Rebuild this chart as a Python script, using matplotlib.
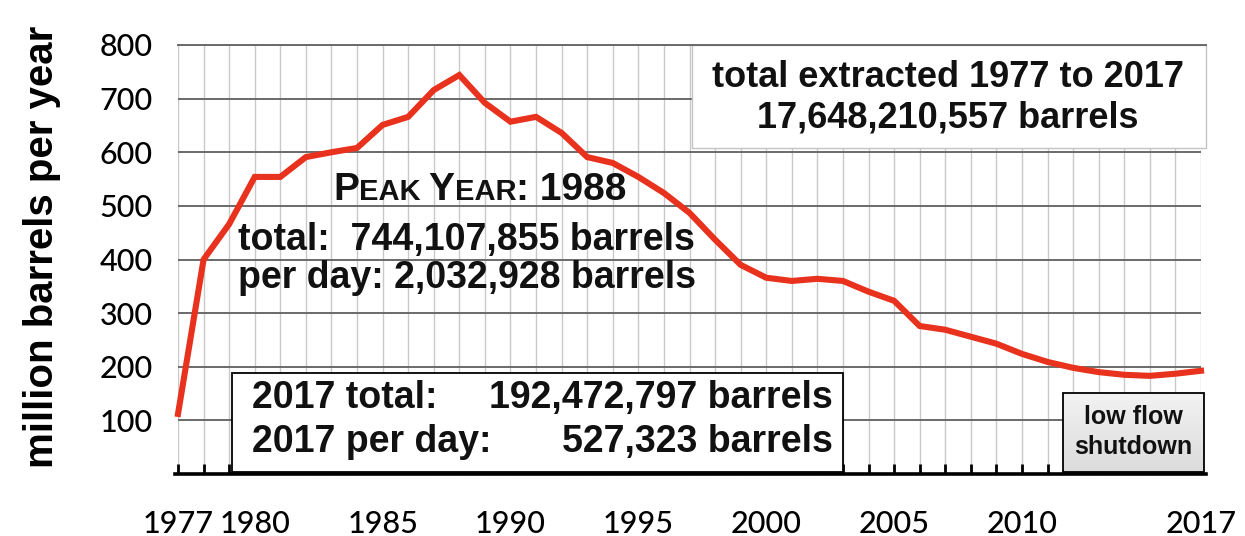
import numpy as np
import matplotlib
matplotlib.use("Agg")
import matplotlib.pyplot as plt
from matplotlib.patches import Rectangle
from matplotlib.offsetbox import TextArea, HPacker, AnnotationBbox

years = list(range(1977, 2018))
production = [112, 400, 466, 554, 554, 591, 600, 608, 651, 666, 716, 744,
              692, 657, 666, 636, 591, 580, 554, 524, 487, 437, 390, 366,
              360, 364, 360, 340, 323, 276, 269, 256, 243, 224, 209, 198,
              190, 185, 183, 187, 192.5]
ytick_vals = [100, 200, 300, 400, 500, 600, 700, 800]
xtick_vals = [1977, 1980, 1985, 1990, 1995, 2000, 2005, 2010, 2017]

W, H = 1245, 536
fig = plt.figure(figsize=(W / 100, H / 100), dpi=100)
ax_left, ax_right, ax_top, ax_bot = 178, 1201, 45, 474
ax = fig.add_axes([ax_left / W, 1 - ax_bot / H, (ax_right - ax_left) / W, (ax_bot - ax_top) / H])
ax.set_xlim(1977, 2017)
ax.set_ylim(0, 800)

# grid
for yr in years:
    ax.plot([yr, yr], [0, 800], color="#c9c9c9", lw=1.0, zorder=1)
for v in ytick_vals:
    ax.plot([1977, 2017], [v, v], color="#6a6a6a", lw=1.4, zorder=1.5)

for s in ["top", "right", "left"]:
    ax.spines[s].set_visible(False)
ax.spines["bottom"].set_linewidth(2.6)
ax.spines["bottom"].set_zorder(10)
ax.spines["bottom"].set_bounds(1976.9, 2017.2)

ax.set_xticks(years, minor=True)
ax.tick_params(axis="x", which="minor", direction="in", length=7, width=2, color="black")
ax.set_xticks(xtick_vals)
ax.set_xticklabels([str(x) for x in xtick_vals])
ax.tick_params(axis="x", which="major", direction="in", length=7, width=2, pad=26,
               labelsize=22)
ax.set_yticks(ytick_vals)
ax.set_yticklabels([str(v) for v in ytick_vals])
ax.tick_params(axis="y", length=0, pad=18, labelsize=22)
for lab in ax.get_xticklabels() + ax.get_yticklabels():
    lab.set_fontfamily("Lato")
    lab.set_fontweight("medium")

fig.text(42 / W, 1 - 247 / H, "million barrels per year", rotation=90,
         ha="center", va="center", fontsize=29, fontweight="bold",
         family="Liberation Sans")

# red line
ax.plot(years, production, color="#e8321e", lw=4.4, zorder=6,
        solid_joinstyle="miter", clip_on=False)

F = dict(family="Liberation Sans", fontweight="bold", color="#111111")

# total extracted box
ax.add_patch(Rectangle((1997.1, 608), 20.1, 192, facecolor="white",
                       edgecolor="#c4c4c4", lw=1.0, zorder=3, clip_on=False))
ax.plot([1977, 2017.2], [800, 800], color="#6a6a6a", lw=1.4, zorder=3.5, clip_on=False)
ax.text(2007.1, 739, "total extracted 1977 to 2017", ha="center", va="center",
        fontsize=26, zorder=7, **F)
ax.text(2007.1, 664, "17,648,210,557 barrels", ha="center", va="center",
        fontsize=26, zorder=7, **F)

# peak text (small caps)
big, small = 28, 21
parts = [("P", big), ("EAK ", small), ("Y", big), ("EAR", small), (": 1988", big)]
areas = [TextArea(t, textprops=dict(fontsize=s, **F)) for t, s in parts]
pack = HPacker(children=areas, align="baseline", pad=0, sep=0)
ab = AnnotationBbox(pack, (1988.8, 530), xycoords="data", frameon=False,
                    box_alignment=(0.5, 0.5), zorder=7)
ax.add_artist(ab)
ax.text(1979.35, 437, "total:  744,107,855 barrels", ha="left", va="center",
        fontsize=27, zorder=7, **F)
ax.text(1979.35, 366, "per day: 2,032,928 barrels", ha="left", va="center",
        fontsize=27, zorder=7, **F)

# 2017 box
ax.add_patch(Rectangle((1979.1, 4), 23.9, 184, facecolor="white",
                       edgecolor="black", lw=1.3, zorder=4, clip_on=False))
ax.text(1979.9, 142, "2017 total:", ha="left", va="center", fontsize=27, zorder=7, **F)
ax.text(2002.6, 142, "192,472,797 barrels", ha="right", va="center", fontsize=27, zorder=7, **F)
ax.text(1979.9, 60, "2017 per day:", ha="left", va="center", fontsize=27, zorder=7, **F)
ax.text(2002.6, 60, "527,323 barrels", ha="right", va="center", fontsize=27, zorder=7, **F)

# low flow shutdown box
grad = np.linspace(0.95, 0.86, 64).reshape(-1, 1)
ax.imshow(np.dstack([grad, grad, grad]), extent=(2011.6, 2017.1, 4, 151),
          aspect="auto", zorder=4, clip_on=False)
ax.add_patch(Rectangle((2011.6, 4), 5.5, 147, facecolor="none",
                       edgecolor="black", lw=1.3, zorder=5, clip_on=False))
ax.text(2014.35, 106, "low flow", ha="center", va="center", fontsize=18,
        color="#111111", zorder=7, family="Liberation Sans", fontweight="bold")
ax.text(2014.35, 50, "shutdown", ha="center", va="center", fontsize=18,
        color="#111111", zorder=7, family="Liberation Sans", fontweight="bold")
ax.set_xlim(1977, 2017)
ax.set_ylim(0, 800)

fig.savefig("out.png", dpi=100)
